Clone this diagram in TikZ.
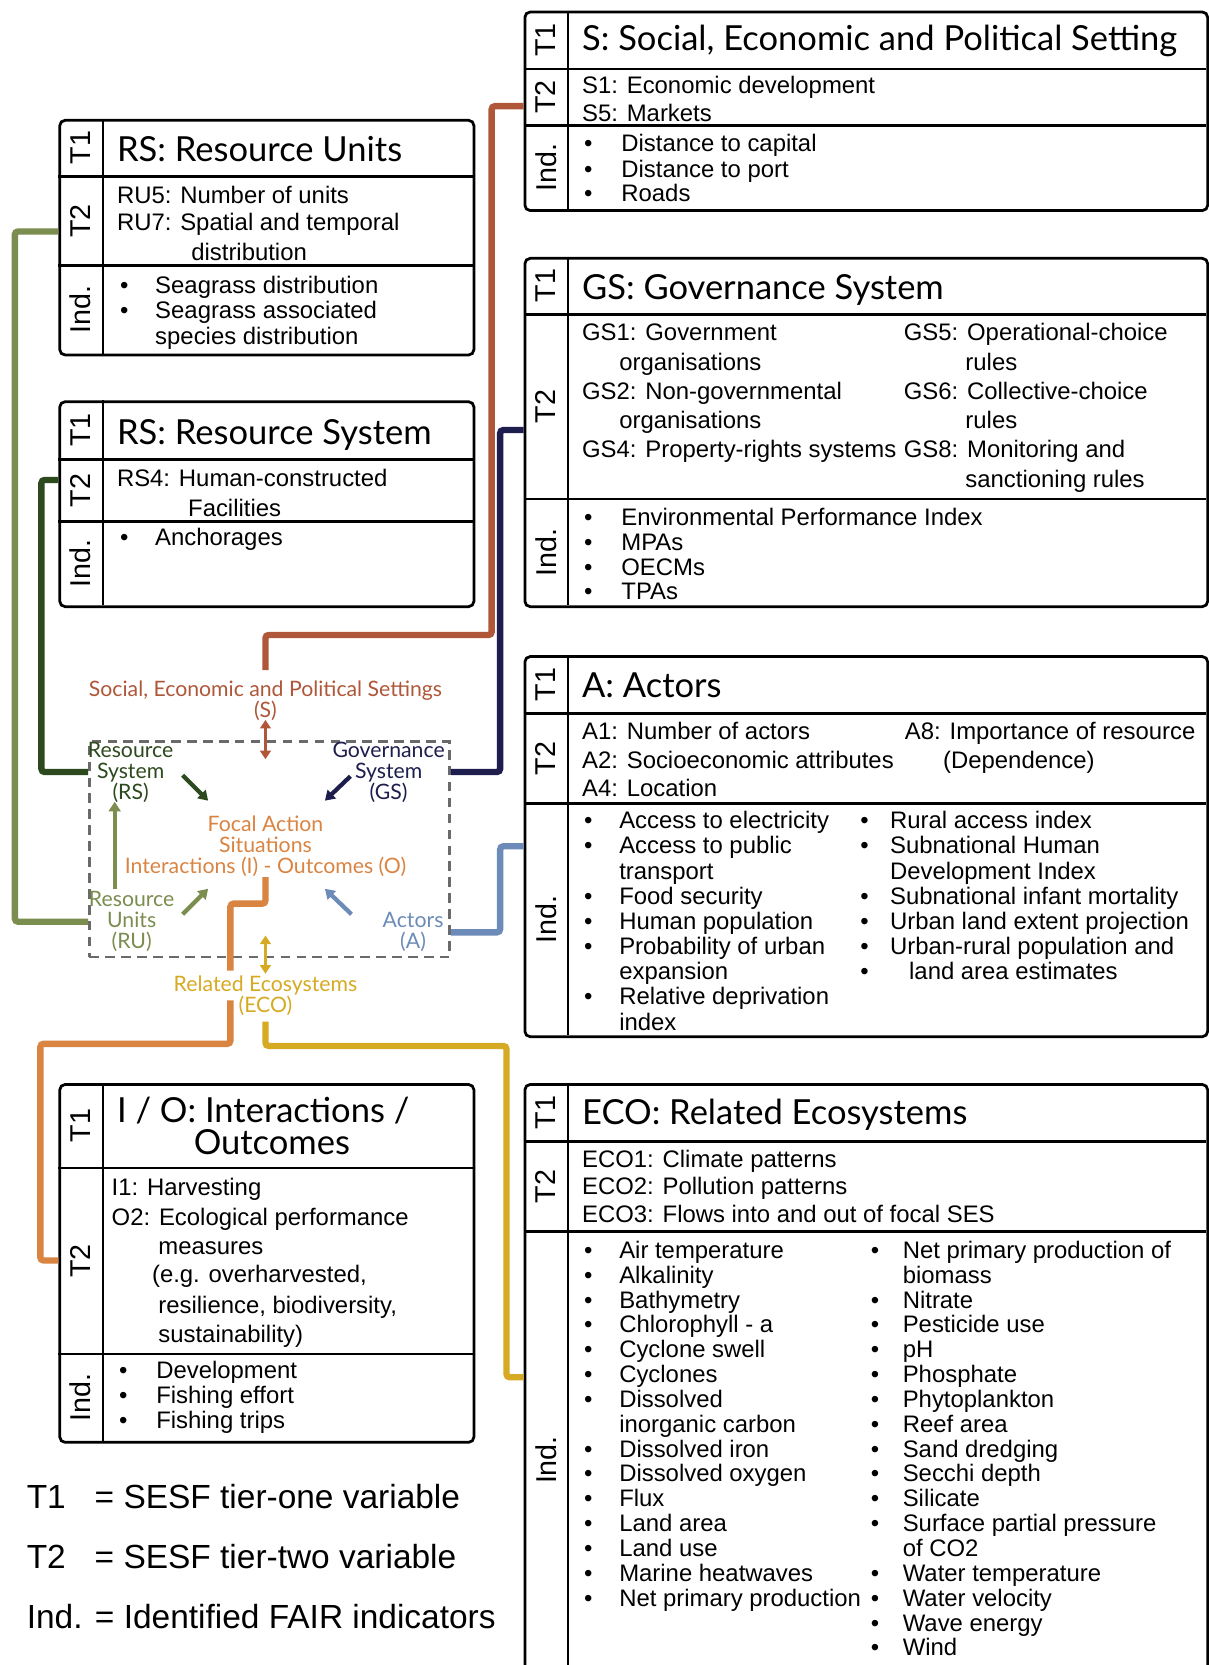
\documentclass[tikz,border=0pt]{standalone}
\usepackage{fontspec}
\setmainfont{Liberation Sans}
\newfontfamily\titlef{Lato}
\newfontfamily\cenf{Lato}
\usetikzlibrary{arrows.meta,calc}
\definecolor{cS}{HTML}{B0573A}
\definecolor{cGS}{HTML}{1E1E4E}
\definecolor{cA}{HTML}{6C8BB8}
\definecolor{cECO}{HTML}{D6AA22}
\definecolor{cIO}{HTML}{DA8442}
\definecolor{cRU}{HTML}{7B8D4F}
\definecolor{cRS}{HTML}{2D4A1E}
\definecolor{cDash}{HTML}{6A6A6A}
\newcounter{tn}
\newcommand\tx[3]{\stepcounter{tn}\node[txt] (tx\the\value{tn}) at (#1,#2) {#3};}
\newcommand\bu[4]{\tx{#1}{#3}{\textbullet}\tx{#2}{#3}{#4}}
\newcommand\tbox[7]{%
 \node[box, minimum width=#4pt, minimum height=#5pt] (#1) at (#2,#3) {};
 \draw[sep] (#2+42,#3) -- (#2+42,#3+#5);
 \draw[sep] (#2,#6) -- (#2+#4,#6);
 \draw[sep] (#2,#7) -- (#2+#4,#7);
 \node[tl] (#1-t1) at (#2+21,{(#3+#6)/2}) {T1};
 \node[tl] (#1-t2) at (#2+21,{(#6+#7)/2}) {T2};
 \node[tl] (#1-ind) at (#2+21,{(#7+#3+#5)/2}) {Ind.};
}
\begin{document}
\begin{tikzpicture}[x=1pt,y=-1pt,
 box/.style={draw, line width=2.6pt, rounded corners=5pt, rectangle, inner sep=0, anchor=north west},
 sep/.style={line width=2.6pt},
 tl/.style={rotate=90, font=\fontsize{27}{27}\selectfont, inner sep=0},
 ttl/.style={anchor=base west, inner sep=0, font=\titlef\fontsize{32.5}{32.5}\selectfont},
 txt/.style={anchor=base west, inner sep=0, font=\fontsize{22.5}{24}\selectfont},
 conn/.style={line width=6pt, rounded corners=3pt},
 cen/.style={font=\cenf\fontsize{20}{19.7}\selectfont, align=center, inner sep=0, anchor=north},
 arr/.style={line width=4pt, -{Triangle[length=9pt,width=11pt]}},
 darr/.style={line width=3pt, {Triangle[length=8pt,width=10pt]}-{Triangle[length=8pt,width=10pt]}},
 leg/.style={anchor=base west, inner sep=0, font=\fontsize{31.5}{31.5}\selectfont}]
\fill[white] (0,0) rectangle (1138,1568);
\useasboundingbox (0,0) rectangle (1138,1568);

% ---------- boxes ----------
\tbox{S}{493}{10}{643}{187}{65}{118}
\tbox{RU}{55}{112}{390}{221}{166}{250}
\tbox{RSy}{55}{377}{390}{193}{433}{491}
\tbox{GS}{493}{242}{643}{328}{296}{470}
\tbox{A}{493}{617}{643}{358}{672}{757}
\tbox{IO}{55}{1020}{390}{337}{1100}{1275}
\tbox{ECO}{493}{1020}{643}{570}{1075}{1160}

% S box
\node[ttl] (S-title) at (548,48) {S: Social, Economic and Political Setting};
\tx{548}{88}{S1: Economic development}
\tx{548}{114}{S5: Markets}
\bu{550}{585}{143}{Distance to capital}
\bu{550}{585}{167}{Distance to port}
\bu{550}{585}{190}{Roads}

% RU box
\node[ttl] (RU-title) at (110,152) {RS: Resource Units};
\tx{110}{192}{RU5: Number of units}
\tx{110}{217}{RU7: Spatial and temporal}
\tx{180}{245}{distribution}
\bu{113}{146}{276}{Seagrass distribution}
\bu{113}{146}{300}{Seagrass associated}
\tx{146}{324}{species distribution}

% RS box
\node[ttl] (RSy-title) at (110,419) {RS: Resource System};
\tx{110}{458}{RS4: Human-constructed}
\tx{177}{486}{Facilities}
\bu{113}{146}{514}{Anchorages}

% GS box
\node[ttl] (GS-title) at (548,282) {GS: Governance System};
\tx{548}{321}{GS1: Government}
\tx{583}{349}{organisations}
\tx{548}{376}{GS2: Non-governmental}
\tx{583}{404}{organisations}
\tx{548}{431}{GS4: Property-rights systems}
\tx{851}{321}{GS5: Operational-choice}
\tx{909}{349}{rules}
\tx{851}{376}{GS6: Collective-choice}
\tx{909}{404}{rules}
\tx{851}{431}{GS8: Monitoring and}
\tx{909}{459}{sanctioning rules}
\bu{550}{585}{495}{Environmental Performance Index}
\bu{550}{585}{518}{MPAs}
\bu{550}{585}{542}{OECMs}
\bu{550}{585}{565}{TPAs}

% A box
\node[ttl] (A-title) at (548,657) {A: Actors};
\tx{548}{696}{A1: Number of actors}
\tx{548}{724}{A2: Socioeconomic attributes}
\tx{548}{750}{A4: Location}
\tx{852}{696}{A8: Importance of resource}
\tx{888}{724}{(Dependence)}
\bu{550}{583}{780}{Access to electricity}
\bu{550}{583}{804}{Access to public}
\tx{583}{828}{transport}
\bu{550}{583}{852}{Food security}
\bu{550}{583}{875}{Human population}
\bu{550}{583}{899}{Probability of urban}
\tx{583}{922}{expansion}
\bu{550}{583}{946}{Relative deprivation}
\tx{583}{970}{index}
\bu{810}{838}{780}{Rural access index}
\bu{810}{838}{804}{Subnational Human}
\tx{838}{828}{Development Index}
\bu{810}{838}{852}{Subnational infant mortality}
\bu{810}{838}{875}{Urban land extent projection}
\bu{810}{838}{899}{Urban-rural population and}
\bu{810}{856}{922}{land area estimates}

% IO box
\node[ttl] (IO-title) at (110,1057) {I / O: Interactions /};
\node[ttl, anchor=base] (IO-title2) at (256,1087) {Outcomes};
\tx{105}{1126}{I1: Harvesting}
\tx{105}{1154}{O2: Ecological performance}
\tx{149}{1181}{measures}
\tx{143}{1208}{(e.g. overharvested,}
\tx{149}{1237}{resilience, biodiversity,}
\tx{149}{1264}{sustainability)}
\bu{112}{147}{1298}{Development}
\bu{112}{147}{1322}{Fishing effort}
\bu{112}{147}{1345}{Fishing trips}

% ECO box
\node[ttl] (ECO-title) at (548,1059) {ECO: Related Ecosystems};
\tx{548}{1099}{ECO1: Climate patterns}
\tx{548}{1125}{ECO2: Pollution patterns}
\tx{548}{1151}{ECO3: Flows into and out of focal SES}
\bu{550}{583}{1185}{Air temperature}
\bu{550}{583}{1185+23.4*1}{Alkalinity}
\bu{550}{583}{1185+23.4*2}{Bathymetry}
\bu{550}{583}{1185+23.4*3}{Chlorophyll - a}
\bu{550}{583}{1185+23.4*4}{Cyclone swell}
\bu{550}{583}{1185+23.4*5}{Cyclones}
\bu{550}{583}{1185+23.4*6}{Dissolved}
\tx{583}{1185+23.4*7}{inorganic carbon}
\bu{550}{583}{1185+23.4*8}{Dissolved iron}
\bu{550}{583}{1185+23.4*9}{Dissolved oxygen}
\bu{550}{583}{1185+23.4*10}{Flux}
\bu{550}{583}{1185+23.4*11}{Land area}
\bu{550}{583}{1185+23.4*12}{Land use}
\bu{550}{583}{1185+23.4*13}{Marine heatwaves}
\bu{550}{583}{1185+23.4*14}{Net primary production}
\bu{820}{850}{1185}{Net primary production of}
\tx{850}{1185+23.4*1}{biomass}
\bu{820}{850}{1185+23.4*2}{Nitrate}
\bu{820}{850}{1185+23.4*3}{Pesticide use}
\bu{820}{850}{1185+23.4*4}{pH}
\bu{820}{850}{1185+23.4*5}{Phosphate}
\bu{820}{850}{1185+23.4*6}{Phytoplankton}
\bu{820}{850}{1185+23.4*7}{Reef area}
\bu{820}{850}{1185+23.4*8}{Sand dredging}
\bu{820}{850}{1185+23.4*9}{Secchi depth}
\bu{820}{850}{1185+23.4*10}{Silicate}
\bu{820}{850}{1185+23.4*11}{Surface partial pressure}
\tx{850}{1185+23.4*12}{of CO2}
\bu{820}{850}{1185+23.4*13}{Water temperature}
\bu{820}{850}{1185+23.4*14}{Water velocity}
\bu{820}{850}{1185+23.4*15}{Wave energy}
\bu{820}{850}{1185+23.4*16}{Wind}

% ---------- centre diagram ----------
\node[draw=cDash, line width=2.5pt, dash pattern=on 9pt off 6pt, minimum width=339pt, minimum height=203pt, anchor=north west, inner sep=0] (focal) at (83,697) {};
\node[cen, text=cS] (Slab) at (250,641) {Social, Economic and Political Settings\\(S)};
\node[cen, text=cRS] (RSlab) at (123,699) {Resource\\System\\(RS)};
\node[cen, text=cGS] (GSlab) at (366,699) {Governance\\System\\(GS)};
\node[cen, text=cIO] (Flab) at (250,768) {Focal Action\\Situations\\Interactions (I) - Outcomes (O)};
\node[cen, text=cRU] (RUlab) at (124,839) {Resource\\Units\\(RU)};
\node[cen, text=cA] (Alab) at (389,859) {Actors\\(A)};
\node[cen, text=cECO] (ECOlab) at (250,919) {Related Ecosystems\\(ECO)};

% inner arrows
\coordinate (sA1) at (250,678); \coordinate (sA2) at (250,715);
\coordinate (rsA1) at (172,730); \coordinate (rsA2) at (196,754);
\coordinate (gsA1) at (330,731); \coordinate (gsA2) at (306,754);
\coordinate (ruA1) at (108,837); \coordinate (ruA2) at (108,755);
\coordinate (ruB1) at (172,861); \coordinate (ruB2) at (196,837);
\coordinate (aA1) at (331,861); \coordinate (aA2) at (306,837);
\coordinate (eA1) at (250,881); \coordinate (eA2) at (250,917);
\draw[darr, cS] (sA1) -- (sA2);
\draw[arr, cRS] (rsA1) -- (rsA2);
\draw[arr, cGS] (gsA1) -- (gsA2);
\draw[arr, cRU] (ruA1) -- (ruA2);
\draw[arr, cRU] (ruB1) -- (ruB2);
\draw[arr, cA] (aA1) -- (aA2);
\draw[darr, cECO] (eA1) -- (eA2);

% ---------- connectors ----------
\coordinate (sS) at (250,631);
\coordinate (ecoS) at (250,962);
\coordinate (ioS) at (250,826);
\coordinate (ioM) at (217,914);
\coordinate (ioT) at (217,942);
\draw[conn, cS] (sS) -- (250,598) -- (463,598) -- (463,100) -- (S.west |- 0,100);
\draw[conn, cGS] (focal.east |- 0,727) -- (471,727) -- (471,405) -- (GS.west |- 0,405);
\draw[conn, cA] (focal.east |- 0,878) -- (471,878) -- (471,797) -- (A.west |- 0,797);
\draw[conn, cECO] (ecoS) -- (250,985) -- (477,985) -- (477,1297) -- (ECO.west |- 0,1297);
\draw[conn, cIO] (ioS) -- (250,851) -- (217,851) -- (ioM);
\draw[conn, cIO] (ioT) -- (217,983) -- (38,983) -- (38,1187) -- (IO.west |- 0,1187);
\draw[conn, cRU] (focal.west |- 0,868) -- (14,868) -- (14,218) -- (RU.west |- 0,218);
\draw[conn, cRS] (focal.west |- 0,727) -- (39,727) -- (39,452) -- (RSy.west |- 0,452);

% ---------- legend ----------
\node[leg] (L1a) at (25,1421) {T1};
\node[leg] (L1b) at (89,1421) {= SESF tier-one variable};
\node[leg] (L2a) at (25,1477) {T2};
\node[leg] (L2b) at (89,1477) {= SESF tier-two variable};
\node[leg] (L3) at (25,1534) {Ind. = Identified FAIR indicators};
\end{tikzpicture}
\end{document}
